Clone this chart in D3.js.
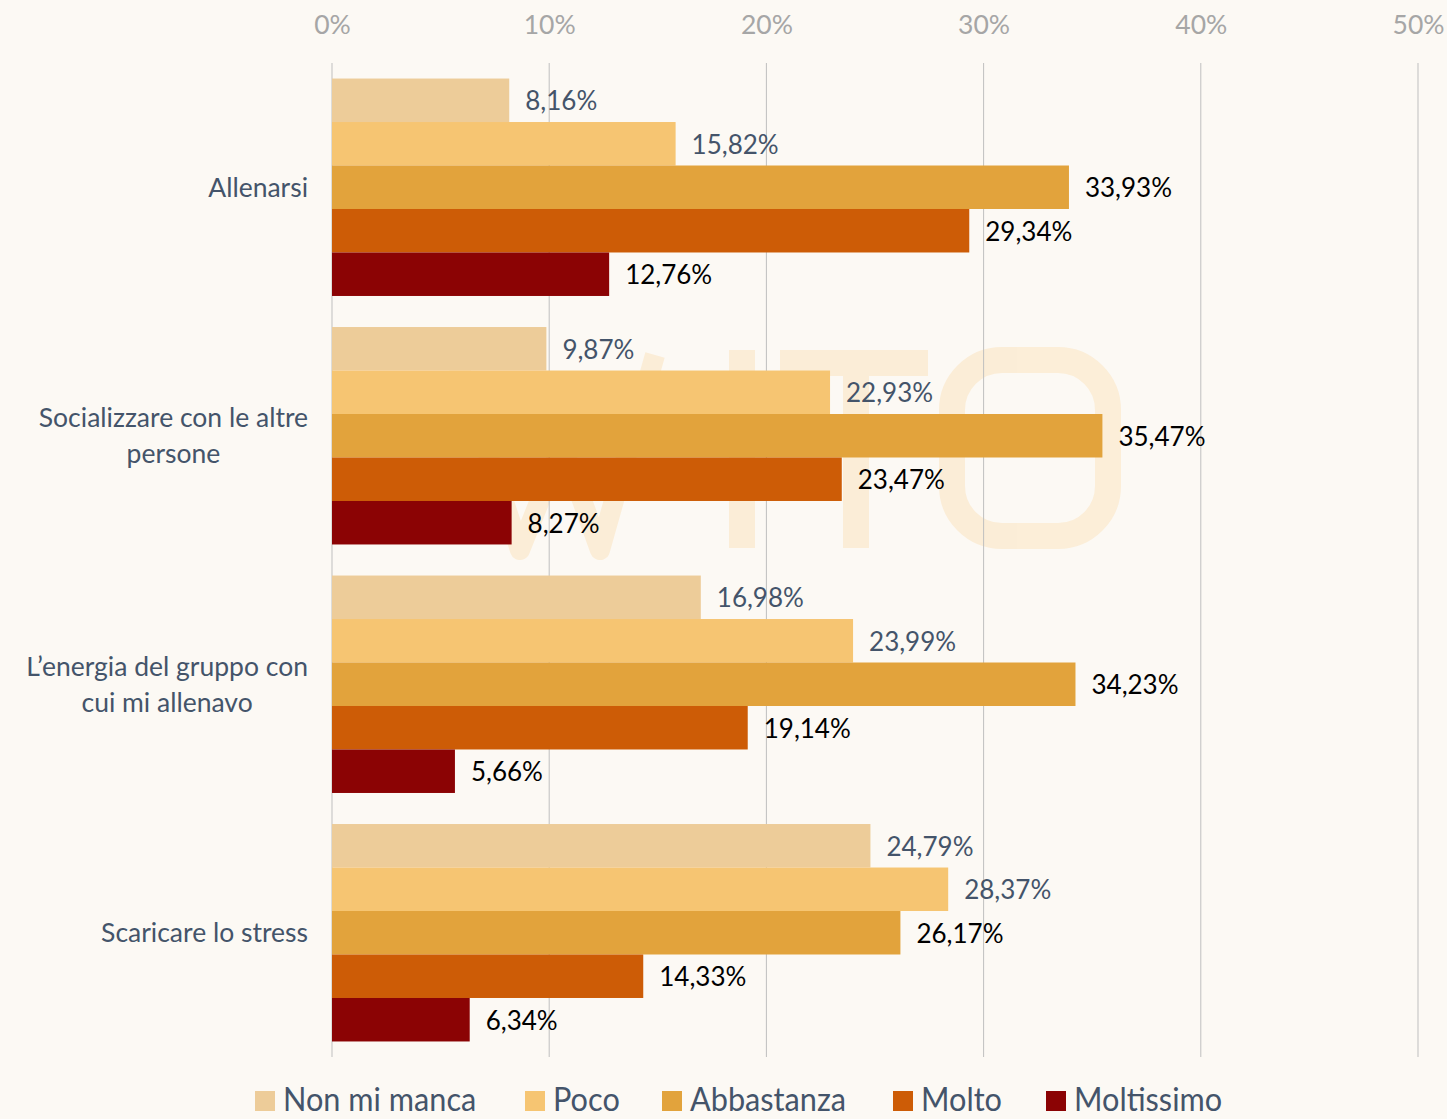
<!DOCTYPE html>
<html>
<head>
<meta charset="utf-8">
<script src="https://cdn.jsdelivr.net/npm/d3@7"></script>
<style>
    body { margin: 0; background: #fcf9f4; }
    svg { display: block; font-family: Lato, "Open Sans", sans-serif; }
</style>
</head>
<body>
<div id="div_placeholder"></div>
<script>
// dati
var categorie = ["Allenarsi", "Socializzare con le altre persone", "L’energia del gruppo con cui mi allenavo", "Scaricare lo stress"];
var righeEtichette = [["Allenarsi"], ["Socializzare con le altre", "persone"], ["L’energia del gruppo con", "cui mi allenavo"], ["Scaricare lo stress"]];
var serie = ["Non mi manca", "Poco", "Abbastanza", "Molto", "Moltissimo"];
var nonMiManca = [8.16, 9.87, 16.98, 24.79];
var poco = [15.82, 22.93, 23.99, 28.37];
var abbastanza = [33.93, 35.47, 34.23, 26.17];
var molto = [29.34, 23.47, 19.14, 14.33];
var moltissimo = [12.76, 8.27, 5.66, 6.34];
var tickValori = [0, 10, 20, 30, 40, 50];
var colori = ["#edcc99", "#f6c572", "#e2a33c", "#cd5c06", "#8b0304"];
var coloriEtichette = ["#44546a", "#44546a", "#000000", "#000000", "#000000"];

var valori = [nonMiManca, poco, abbastanza, molto, moltissimo];

var width = 1447;
var height = 1119;
var margin = { top: 63, right: 29, bottom: 62, left: 332 };

var svg = d3.select("#div_placeholder")
    .append("svg")
    .attr("width", width)
    .attr("height", height);

svg.append("rect")
    .attr("width", width)
    .attr("height", height)
    .attr("fill", "#fcf9f4");

// watermark
var wm = svg.append("g").attr("opacity", 0.6);
wm.append("path")
    .attr("d", "M455,355 L520,550 L562,445 L600,550 L655,355")
    .attr("fill", "none")
    .attr("stroke", "#fbe6c4")
    .attr("stroke-width", 20)
    .attr("stroke-linejoin", "round");
wm.append("rect").attr("x", 729).attr("y", 350).attr("width", 26).attr("height", 198).attr("fill", "#fbe6c4");
wm.append("rect").attr("x", 780).attr("y", 350).attr("width", 148).attr("height", 26).attr("fill", "#fbe6c4");
wm.append("rect").attr("x", 843).attr("y", 350).attr("width", 26).attr("height", 198).attr("fill", "#fbe6c4");
wm.append("rect").attr("x", 952).attr("y", 360).attr("width", 156).attr("height", 176).attr("rx", 50)
    .attr("fill", "none").attr("stroke", "#fbe6c4").attr("stroke-width", 26);

var x = d3.scaleLinear()
    .domain([0, 50])
    .range([margin.left, width - margin.right]);

var y = d3.scaleBand()
    .domain(categorie)
    .range([margin.top, height - margin.bottom])
    .paddingInner(0.125)
    .paddingOuter(0.0625);

var ySub = d3.scaleBand()
    .domain(serie)
    .range([0, y.bandwidth()]);

// griglia
svg.append("g")
    .selectAll("line")
    .data(tickValori)
    .enter()
    .append("line")
    .attr("x1", function (d) { return x(d); })
    .attr("x2", function (d) { return x(d); })
    .attr("y1", margin.top)
    .attr("y2", height - margin.bottom)
    .attr("stroke", "#bfbfbf")
    .attr("stroke-width", 1);

// asse in alto
var asse = svg.append("g")
    .attr("transform", "translate(0," + 25 + ")")
    .call(d3.axisTop(x).tickValues(tickValori).tickSize(0).tickFormat(function (d) { return d + "%"; }));
asse.select(".domain").remove();
asse.selectAll("text")
    .attr("dy", "0.35em")
    .attr("y", 0)
    .style("font-family", "Lato, sans-serif")
    .style("font-size", "26.5px")
    .style("fill", "#a6a6a6");

// barre
var gruppi = svg.append("g")
    .selectAll("g")
    .data(categorie)
    .enter()
    .append("g")
    .attr("transform", function (d) { return "translate(0," + y(d) + ")"; });

gruppi.each(function (cat, ci) {
    var g = d3.select(this);
    serie.forEach(function (s, si) {
        var v = valori[si][ci];
        g.append("rect")
            .attr("x", x(0))
            .attr("y", ySub(s))
            .attr("width", x(v) - x(0))
            .attr("height", ySub.bandwidth())
            .attr("fill", colori[si]);
        g.append("text")
            .attr("x", x(v) + 16)
            .attr("y", ySub(s) + ySub.bandwidth() / 2)
            .attr("dy", "0.38em")
            .style("font-size", "26px")
            .style("fill", coloriEtichette[si])
            .text(v.toFixed(2).replace(".", ",") + "%");
    });
});

// etichette categorie
categorie.forEach(function (cat, ci) {
    var righe = righeEtichette[ci];
    var t = svg.append("text")
        .attr("y", y(cat) + y.bandwidth() / 2)
        .style("font-size", "26.5px")
        .style("fill", "#44546a")
        .attr("text-anchor", "middle");
    righe.forEach(function (r, ri) {
        t.append("tspan")
            .attr("dy", ri === 0 ? (0.35 - (righe.length - 1) * 0.68) + "em" : "1.36em")
            .text(r);
    });
    var maxW = 0;
    t.selectAll("tspan").each(function () {
        maxW = Math.max(maxW, this.getComputedTextLength());
    });
    t.attr("x", 308 - maxW / 2);
    t.selectAll("tspan").attr("x", 308 - maxW / 2);
});

// legenda
var legendaX = [255, 525, 662, 893, 1046];
var legenda = svg.append("g");
serie.forEach(function (s, si) {
    legenda.append("rect")
        .attr("x", legendaX[si])
        .attr("y", 1091)
        .attr("width", 20)
        .attr("height", 20)
        .attr("fill", colori[si]);
    legenda.append("text")
        .attr("x", 0)
        .attr("y", 1111)
        .attr("transform", "translate(" + (legendaX[si] + 28) + ",0) scale(0.93,1)")
        .style("font-size", "33px")
        .style("fill", "#44546a")
        .text(s);
});
</script>
</body>
</html>
